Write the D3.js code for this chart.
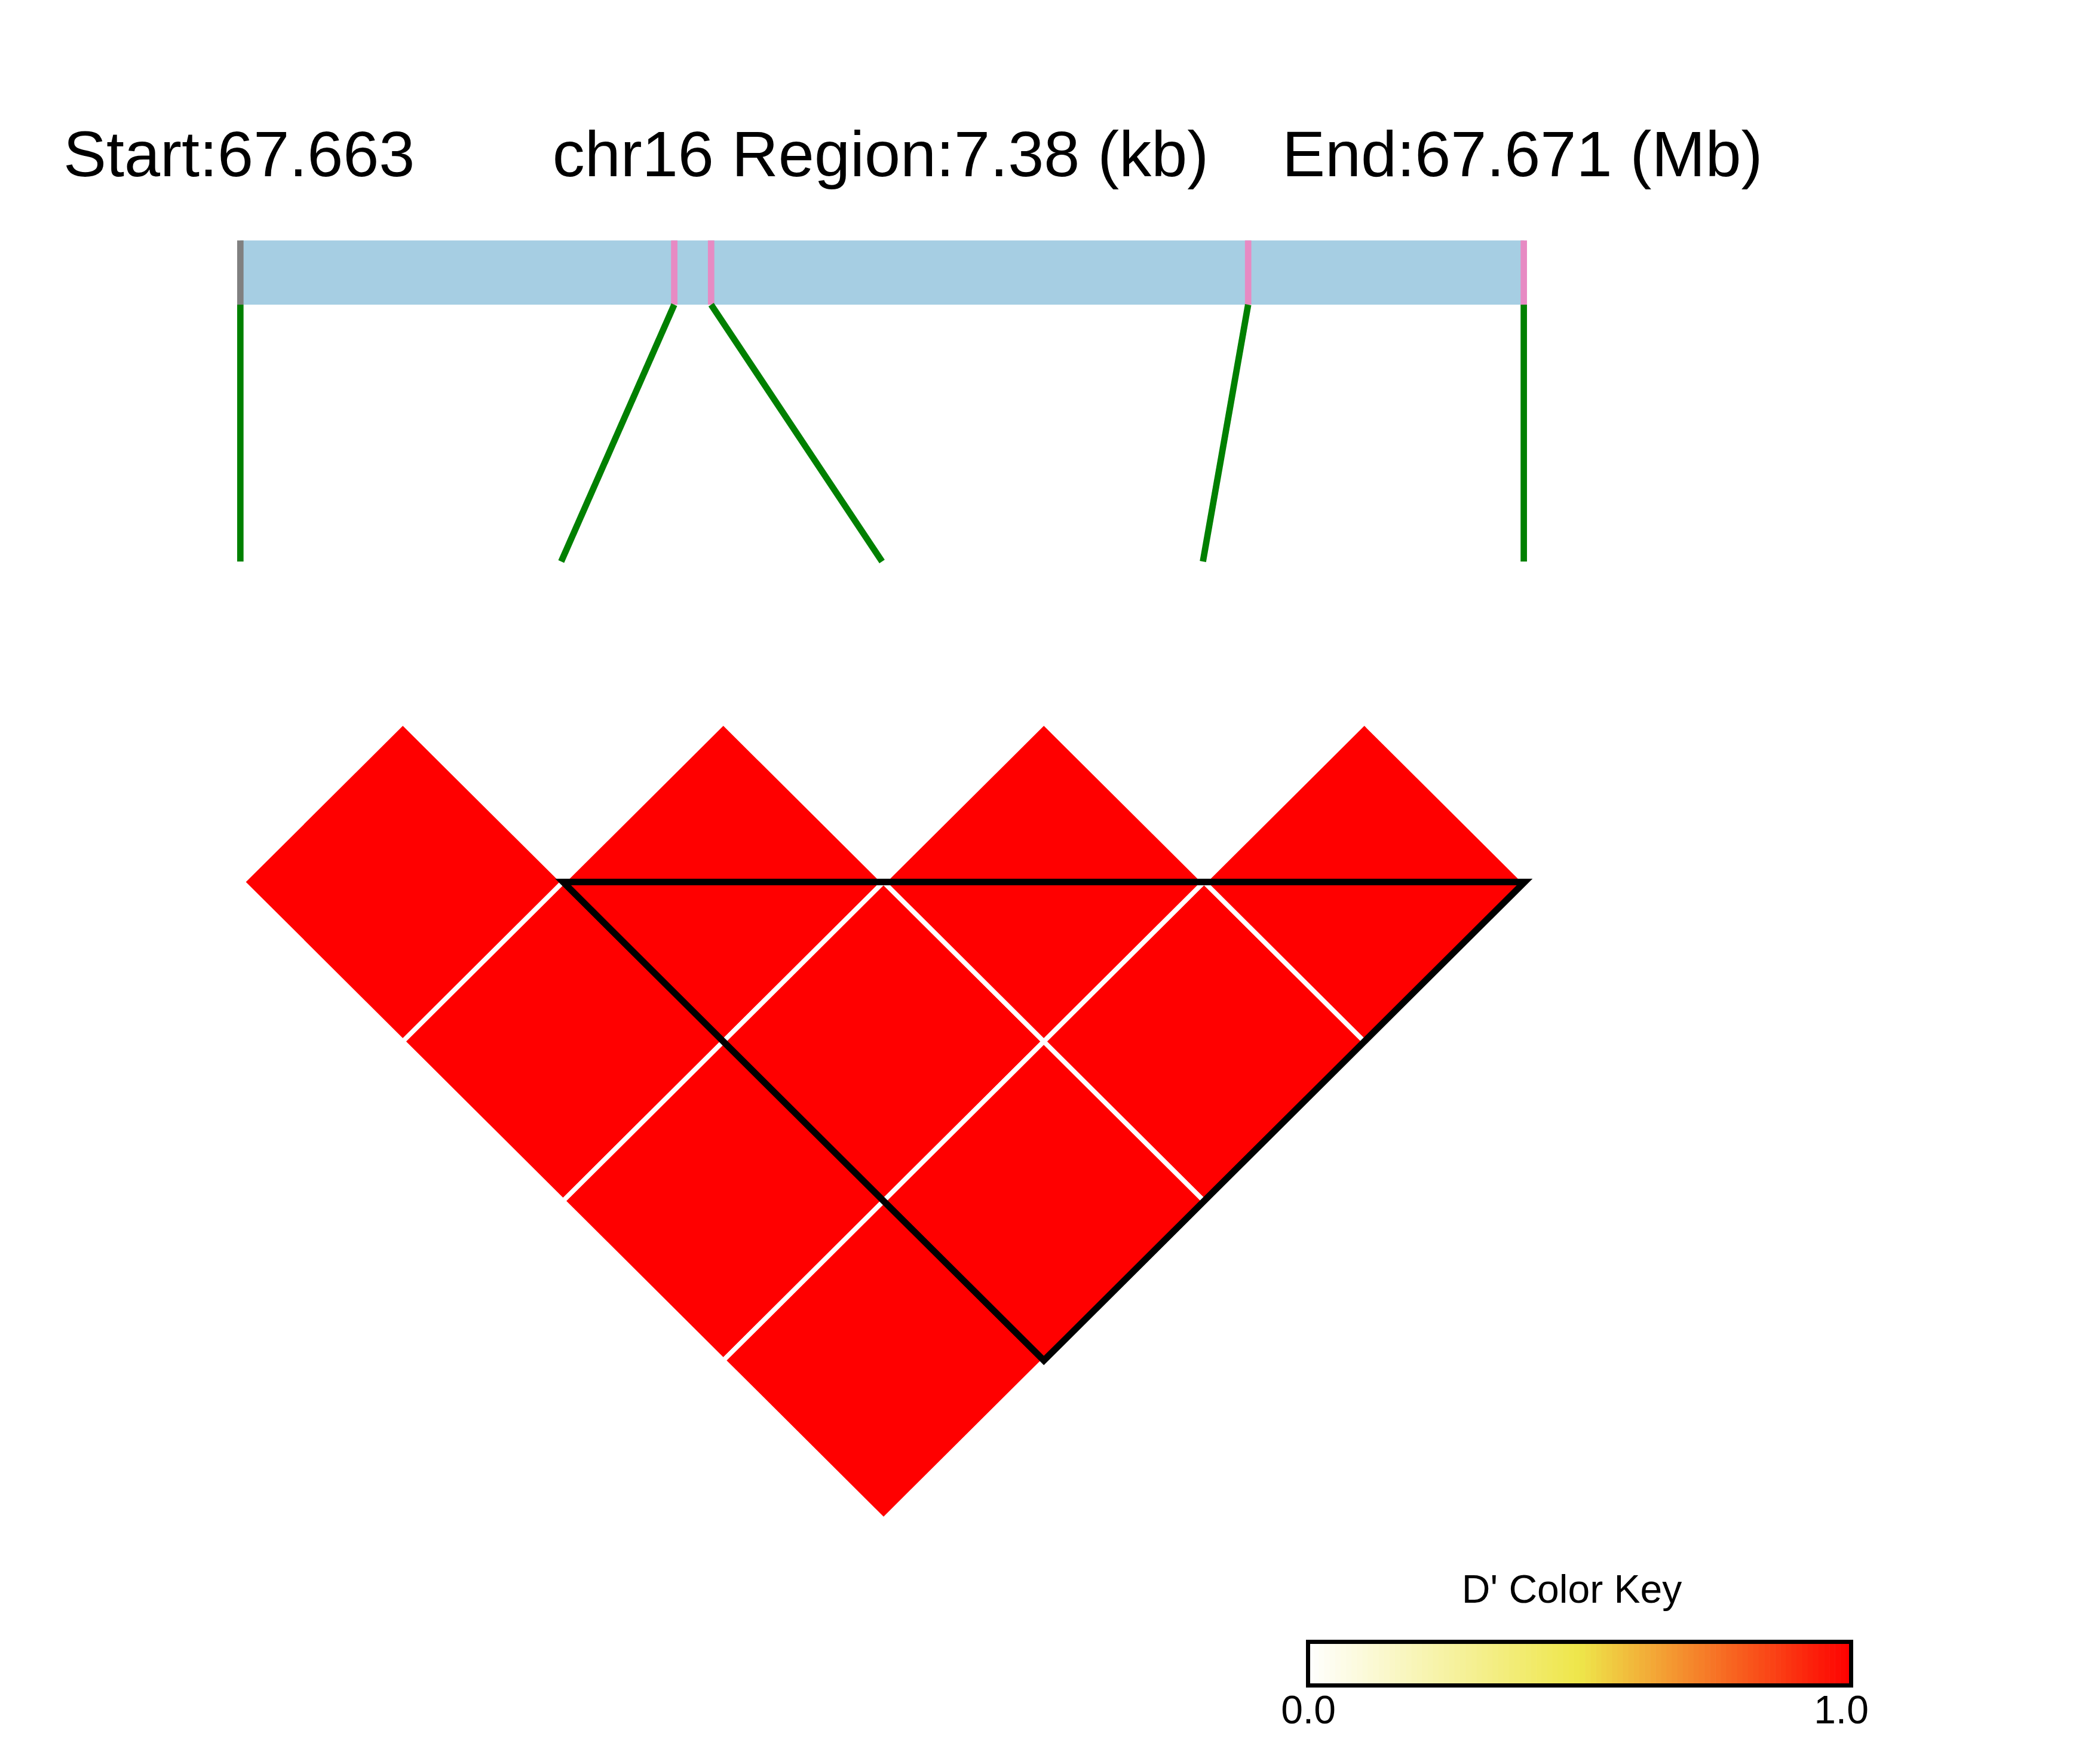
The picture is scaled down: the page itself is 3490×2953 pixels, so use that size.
<!DOCTYPE html>
<html>
<head>
<meta charset="utf-8">
<script src="https://cdn.jsdelivr.net/npm/d3@7"></script>
<style>
  html, body { margin: 0; padding: 0; background: #ffffff; }
  svg { display: block; }
  text { font-family: "Liberation Sans", Arial, sans-serif; }
</style>
</head>
<body>
<script>
// ---------------- data ----------------
const chromosome = "chr16";
const snpNames = ["SNP1", "SNP2", "SNP3", "SNP4", "SNP5"];
const snpPositions = [67663300, 67665795, 67666007, 67669095, 67670680]; // bp
const snpTickColors = ["#808080", "#E78AC3", "#E78AC3", "#E78AC3", "#E78AC3"];
const pairFirst  = [0, 0, 0, 0, 1, 1, 1, 2, 2, 3];
const pairSecond = [1, 2, 3, 4, 2, 3, 4, 3, 4, 4];
const dPrimeValues = [1, 1, 1, 1, 1, 1, 1, 1, 1, 1];
const blockStart = [1];
const blockEnd = [4];
const keyTickValues = [0, 1];
const keyTickLabels = ["0.0", "1.0"];
const keyColors = ["#ffffff", "#eee64a", "#ff0000"];

// ---------------- setup ----------------
const W = 3490, H = 2953;
const svg = d3.select("body").append("svg")
  .attr("width", W).attr("height", H)
  .attr("viewBox", `0 0 ${W} ${H}`);
svg.append("rect").attr("width", W).attr("height", H).attr("fill", "#ffffff");

const n = snpPositions.length;
const startBp = snpPositions[0], endBp = snpPositions[n - 1];
const regionKb = (endBp - startBp) / 1000;

// ---------------- title ----------------
const titleSize = 108, titleY = 295;
svg.append("text").attr("x", 106).attr("y", titleY)
  .attr("font-size", titleSize).attr("fill", "#000")
  .text("Start:" + (startBp / 1e6).toFixed(3));
svg.append("text").attr("x", 1474).attr("y", titleY)
  .attr("font-size", titleSize).attr("fill", "#000").attr("text-anchor", "middle")
  .text(chromosome + " Region:" + regionKb.toFixed(2) + " (kb)");
svg.append("text").attr("x", 2146).attr("y", titleY)
  .attr("font-size", titleSize).attr("fill", "#000")
  .text("End:" + (endBp / 1e6).toFixed(3) + " (Mb)");

// ---------------- genomic bar ----------------
const barX0 = 402.3, barX1 = 2550.6, barY0 = 402.5, barY1 = 510;
const posScale = d3.scaleLinear().domain([startBp, endBp]).range([barX0, barX1]);
const slotScale = d3.scaleLinear().domain([0, n - 1]).range([barX0, barX1]);
const tickW = 10.7;

svg.append("rect")
  .attr("x", posScale(startBp)).attr("y", barY0)
  .attr("width", posScale(endBp) - posScale(startBp)).attr("height", barY1 - barY0)
  .attr("fill", "#A6CEE3");

svg.selectAll("rect.snptick").data(snpPositions).join("rect")
  .attr("class", "snptick")
  .attr("x", d => posScale(d) - tickW / 2).attr("y", barY0)
  .attr("width", tickW).attr("height", barY1 - barY0)
  .attr("fill", (d, i) => snpTickColors[i]);

const lineBottomY = 940;
svg.selectAll("line.snpline").data(snpPositions).join("line")
  .attr("class", "snpline")
  .attr("x1", d => posScale(d)).attr("y1", barY1)
  .attr("x2", (d, i) => slotScale(i)).attr("y2", lineBottomY)
  .attr("stroke", "#008000").attr("stroke-width", tickW);

// ---------------- LD heatmap ----------------
const hx = d3.scaleLinear().domain([0, n - 1]).range([406, 2552]);
const rowH = 267;
const hy = d3.scaleLinear().domain([0, 1]).range([1476.5, 1476.5 + rowH]);
const color = d3.scaleLinear().domain([0, 0.5, 1]).range(keyColors).interpolate(d3.interpolateRgb);

const cells = pairFirst.map((a, k) => ({ i: a, j: pairSecond[k], v: dPrimeValues[k] }));
function cellPath(c) {
  const cx = (c.i + c.j) / 2, d = c.j - c.i;
  const pts = [
    [hx(cx - 0.5), hy(d - 1)],
    [hx(cx), hy(d - 2)],
    [hx(cx + 0.5), hy(d - 1)],
    [hx(cx), hy(d)]
  ];
  return "M" + pts.map(p => p.join(",")).join("L") + "Z";
}
svg.append("g").selectAll("path").data(cells).join("path")
  .attr("d", cellPath)
  .attr("fill", d => color(d.v))
  .attr("stroke", "#ffffff").attr("stroke-width", 8)
  .attr("stroke-linejoin", "miter");

// LD block outline
blockStart.forEach((a, k) => {
  const b = blockEnd[k];
  const pts = [[hx(a), hy(0)], [hx(b), hy(0)], [hx((a + b) / 2), hy(b - a)]];
  svg.append("path")
    .attr("d", "M" + pts.map(p => p.join(",")).join("L") + "Z")
    .attr("fill", "none").attr("stroke", "#000000").attr("stroke-width", 11)
    .attr("stroke-linejoin", "miter").attr("stroke-miterlimit", 10);
});

// ---------------- colour key ----------------
const keyX0 = 2189.5, keyX1 = 3098.5, keyY0 = 2748.5, keyY1 = 2821.5;
const keyScale = d3.scaleLinear().domain([0, 1]).range([keyX0, keyX1]);
const steps = d3.range(0, 100);
svg.append("g").selectAll("rect").data(steps).join("rect")
  .attr("x", s => keyScale(s / 100))
  .attr("y", keyY0)
  .attr("width", (keyX1 - keyX0) / 100 + 0.6)
  .attr("height", keyY1 - keyY0)
  .attr("fill", s => color((s + 0.5) / 100));
svg.append("rect")
  .attr("x", keyX0).attr("y", keyY0)
  .attr("width", keyX1 - keyX0).attr("height", keyY1 - keyY0)
  .attr("fill", "none").attr("stroke", "#000").attr("stroke-width", 7);

svg.append("text").attr("x", 2631).attr("y", 2683)
  .attr("font-size", 66).attr("text-anchor", "middle").attr("fill", "#000")
  .text("D' Color Key");

const keyLabelX = d3.scaleLinear().domain([0, 1]).range([2190, 3082]);
svg.selectAll("text.keytick").data(keyTickValues).join("text")
  .attr("class", "keytick")
  .attr("x", d => keyLabelX(d)).attr("y", 2885)
  .attr("font-size", 66).attr("text-anchor", "middle").attr("fill", "#000")
  .text((d, i) => keyTickLabels[i]);
</script>
</body>
</html>
